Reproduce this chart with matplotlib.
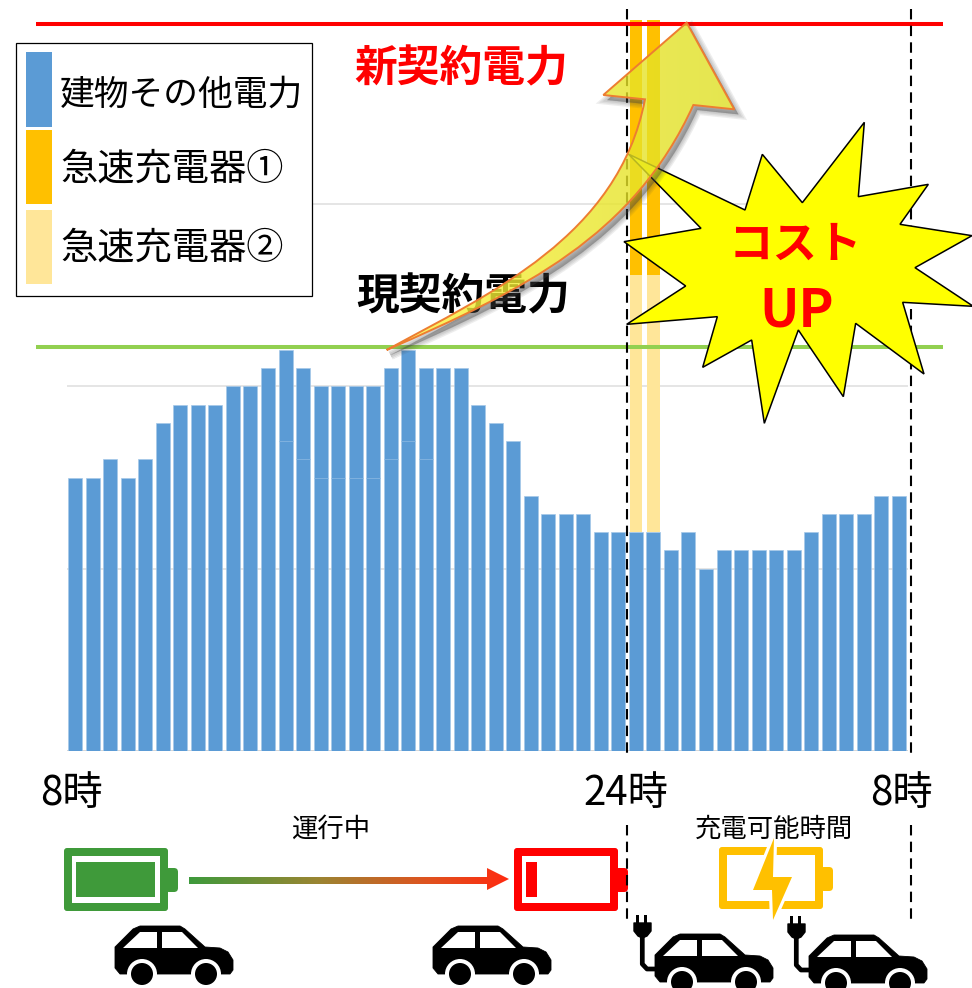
import numpy as np
import matplotlib
matplotlib.use('Agg')
import matplotlib.pyplot as plt
from matplotlib.patches import Polygon, Rectangle, FancyBboxPatch, Circle, PathPatch
from matplotlib.path import Path
from matplotlib.colors import LinearSegmentedColormap

plt.rcParams['font.family'] = ['Noto Sans CJK JP', 'DejaVu Sans']

# 30 minute slots, 8時 -> 8時
building = [15, 15, 16, 15, 16, 18, 19, 19, 19, 20, 20, 21, 22, 21, 20, 20,
            20, 20, 21, 22, 21, 21, 21, 19, 18, 17, 14, 13, 13, 13, 12, 12,
            12, 12, 11, 12, 10, 11, 11, 11, 11, 11, 12, 13, 13, 13, 14, 14]
charger2 = [0] * 48
charger1 = [0] * 48
charger2[32] = charger2[33] = 14.1
charger1[32] = charger1[33] = 14.0
seam_idx = [12, 13, 14, 15, 16, 17, 18, 19, 20]
seam_val = [17, 16, 15, 15, 15, 15, 16, 17, 16]
new_contract = 39.9
now_contract = 22.15

legend_labels = ['建物その他電力', '急速充電器①', '急速充電器②']
hour_labels = ['8時', '24時', '8時']

BLUE = '#5B9BD5'
ORANGE = '#FFC000'
PALE = '#FFE699'

W, H = 972, 988
fig = plt.figure(figsize=(W / 100, H / 100), dpi=100)

# chart area, bar pitch 17.52px
ax = fig.add_axes([66.5 / W, (H - 751) / H, 841 / W, 738.3 / H])
x = np.arange(48)
bottom2 = np.array(building)
bottom1 = bottom2 + np.array(charger2)
ax.bar(x, building, width=0.8, color=BLUE, edgecolor='#A5C8E8', linewidth=0.5, zorder=3)
ax.bar(x, charger2, width=0.72, bottom=bottom2, color=PALE, linewidth=0, zorder=3)
ax.bar(x, charger1, width=0.72, bottom=bottom1, color=ORANGE, linewidth=0, zorder=3)
ax.hlines(seam_val, np.array(seam_idx) - 0.4, np.array(seam_idx) + 0.4, color='#85B5E0', lw=0.6, zorder=4)
ax.set_xlim(-0.5, 47.5)
ax.set_ylim(0, 40.5)
ax.set_yticks([10, 20, 30])
ax.set_xticks([])
ax.set_yticklabels([])
ax.tick_params(length=0)
ax.grid(axis='y', color='#DEDEDE', lw=1.1, zorder=1)
ax.set_axisbelow(True)
for s in ax.spines.values():
    s.set_visible(False)
ax.axhline(0, color='#D0D0D0', lw=1.2, zorder=2)
ax.hlines(new_contract, -2.25, 49.5, color='#FF0000', lw=2.9, clip_on=False, zorder=5)
ax.hlines(now_contract, -2.25, 49.5, color='#92D050', lw=2.9, clip_on=False, zorder=5)

# everything below is drawn in picture pixels
ov = fig.add_axes([0, 0, 1, 1])
ov.patch.set_alpha(0)
ov.axis('off')
ov.set_xlim(0, W)
ov.set_ylim(H, 0)

# legend box
ov.add_patch(Rectangle((15.5, 43.5), 296, 252.5, fc='white', ec='black', lw=0.9, zorder=1))
swatches = [(52, 75, BLUE), (130, 74, ORANGE), (210, 74, PALE)]
for (y0, h, c) in swatches:
    ov.add_patch(Rectangle((26, y0), 26, h, fc=c, ec='none', zorder=2))
for lab, yc, fs in zip(legend_labels, [95, 169, 248], [25, 26.8, 26.8]):
    ov.text(60, yc, lab, fontsize=fs, va='center', ha='left', color='black', zorder=3)

ov.text(461, 68, '新契約電力', fontsize=30.8, fontweight='bold', color='#FF0000', ha='center', va='center', zorder=3)
ov.text(463, 296, '現契約電力', fontsize=30.8, fontweight='bold', color='black', ha='center', va='center', zorder=3)

# dashed time markers
for xp in [627, 911]:
    ov.plot([xp, xp], [9, 755], color='black', lw=1.5, dashes=(5, 3), zorder=4)
    ov.plot([xp, xp], [825, 923], color='black', lw=1.5, dashes=(5, 3), zorder=4)

for lab, xc in zip(hour_labels, [71.5, 625.5, 901.5]):
    ov.text(xc, 793, lab, fontsize=29, ha='center', va='center', color='black')
ov.text(331, 829, '運行中', fontsize=19, ha='center', va='center')

# star callout
star = [(205, 462), (555, 630), (607, 463), (727, 608), (913, 367), (895, 590), (1105, 553),
        (1020, 673), (1236, 707), (1065, 803), (1240, 919), (1028, 907), (1092, 1122), (887, 970),
        (850, 1190), (715, 990), (613, 1270), (575, 1020), (428, 1102), (472, 950), (200, 973),
        (377, 858), (192, 725), (423, 685)]
star = [(560 + a / 3, b / 3) for a, b in star]
ov.add_patch(Polygon(star, closed=True, fc='#FFFF00', ec='black', lw=1.1, joinstyle='miter', zorder=6))
ov.text(795, 245, 'コスト', fontsize=32, fontweight='bold', color='#FF0000', ha='center', va='center', zorder=7)
ov.text(797, 311, 'UP', fontsize=38, fontweight='bold', color='#FF0000', ha='center', va='center', zorder=7)


# rising arrow, outline taken from the crop (x0=380, y0=10, scale 3)
def z5(a, b):
    return (380 + a / 3, 10 + b / 3)


verts = [z5(20, 1020), z5(330, 850), z5(715, 680), z5(795, 268),
         z5(670, 255), z5(920, 38), z5(1063, 298), z5(940, 285),
         z5(760, 680), z5(430, 840), z5(20, 1020), z5(20, 1020)]
codes = [Path.MOVETO, Path.CURVE4, Path.CURVE4, Path.CURVE4,
         Path.LINETO, Path.LINETO, Path.LINETO, Path.LINETO,
         Path.CURVE4, Path.CURVE4, Path.CURVE4, Path.CLOSEPOLY]
arrow_path = Path(verts, codes)

# soft shadow only outside of the arrow
outer = Path([(0, 0), (W, 0), (W, H), (0, H), (0, 0)],
             [Path.MOVETO, Path.LINETO, Path.LINETO, Path.LINETO, Path.CLOSEPOLY])
rv = np.array(arrow_path.to_polygons(closed_only=True)[0])
a_area = np.sum(rv[:-1, 0] * rv[1:, 1] - rv[1:, 0] * rv[:-1, 1])
if a_area > 0:
    hole = Path(rv)
else:
    hole = Path(rv[::-1])
o = outer.vertices
o_area = np.sum(o[:-1, 0] * o[1:, 1] - o[1:, 0] * o[:-1, 1])
if o_area > 0:
    hole = Path(hole.vertices[::-1])
clip = PathPatch(Path.make_compound_path(outer, hole), transform=ov.transData, fc='none', ec='none')
ov.add_patch(clip)
shadow_v = np.array(verts) + np.array([4, 5])
for lw in [7, 5, 3, 1, 0.01]:
    sh = PathPatch(Path(shadow_v, codes), fc=(0.25, 0.25, 0.25, 0.09), ec=(0.25, 0.25, 0.25, 0.09), lw=lw, zorder=7.5)
    ov.add_patch(sh)
    sh.set_clip_path(clip)

grad = LinearSegmentedColormap.from_list('g', [(1.0, 0.96, 0.25, 0.8), (0.93, 0.91, 0.18, 0.8), (0.87, 0.875, 0.14, 0.8)])
img = ov.imshow(np.linspace(0, 1, 256)[None, :], cmap=grad, extent=(388, 736, 350, 20), aspect='auto', zorder=8)
ap = PathPatch(arrow_path, fc='none', ec='#ED7D31', lw=1.4, zorder=8.5, joinstyle='miter')
ov.add_patch(ap)
img.set_clip_path(PathPatch(arrow_path, transform=ov.transData))


# battery icons
def battery(x0, y0, w, h, col, cell=None):
    ov.add_patch(FancyBboxPatch((x0 + 2, y0 + 2), w - 4, h - 4, boxstyle='round,pad=2,rounding_size=3', fc=col, ec='none', zorder=3))
    ov.add_patch(Rectangle((x0 + 8, y0 + 8), w - 16, h - 16, fc='white', ec='none', zorder=3.1))
    ov.add_patch(FancyBboxPatch((x0 + w - 2, y0 + 21), 11, 22, boxstyle='round,pad=1,rounding_size=4', fc=col, ec='none', zorder=2.9))
    if cell:
        ov.add_patch(Rectangle((cell[0], y0 + 14), cell[1], h - 28, fc=col, ec='none', zorder=3.2))


battery(64, 848, 104, 63, '#3F9A3A', (76, 79))
battery(514, 848, 104, 63, '#FF0000', (526, 11))
battery(719, 847, 104, 62, ORANGE)

# bolt with white gap cut in the battery
bolt = [(774, 838), (753, 890), (772, 890), (773, 920), (792, 877), (773, 877)]
ov.add_patch(Polygon(bolt, closed=True, fc=ORANGE, ec='white', lw=4.5, zorder=3.4, joinstyle='miter'))
ov.add_patch(Polygon(bolt, closed=True, fc=ORANGE, ec='none', zorder=3.5))
ov.text(774, 829, '充電可能時間', fontsize=19, ha='center', va='center', zorder=3.6)

# green to red arrow
arrow_clip = Polygon([(189, 877), (487, 877), (487, 868), (509, 879), (487, 890), (487, 884), (189, 884)], closed=True, transform=ov.transData)
grad2 = LinearSegmentedColormap.from_list('g2', [(0, '#3E9A3C'), (0.4, '#9A8532'), (0.75, '#E0521F'), (1, '#FF2A10')])
im2 = ov.imshow(np.linspace(0, 1, 256)[None, :], cmap=grad2, extent=(189, 509, 892, 866), aspect='auto', zorder=3)
im2.set_clip_path(arrow_clip)


# car glyph, x0,y0 = top left
def car(x0, y0, plug=False):
    body = [(0, 21), (18, 3), (25, 0), (65, 0), (70, 3), (90, 21), (105, 22), (113, 26), (118, 34), (118, 44), (115, 48),
            (5, 48), (0, 42)]
    ov.add_patch(Polygon([(x0 + a, y0 + b) for a, b in body], closed=True, fc='black', ec='black', lw=0.6, joinstyle='round', zorder=3))
    for win in [[(8, 22), (25, 6), (42, 6), (42, 22)], [(47, 6), (67, 6), (83, 22), (47, 22)]]:
        ov.add_patch(Polygon([(x0 + a, y0 + b) for a, b in win], closed=True, fc='white', ec='none', zorder=3.1))
    for cx in [27, 91]:
        ov.add_patch(Rectangle((x0 + cx - 15, y0 + 48), 30, 14, fc='white', ec='none', zorder=3.05))
        ov.add_patch(Circle((x0 + cx, y0 + 48), 15, fc='white', ec='none', zorder=3.1))
        ov.add_patch(Circle((x0 + cx, y0 + 48), 11, fc='black', ec='none', zorder=3.2))
    if plug:
        ov.plot([x0 - 12.7, x0 - 12.7, x0 - 8, x0 + 1], [y0 + 2, y0 + 30, y0 + 35, y0 + 35], color='black', lw=3.4, solid_joinstyle='round', zorder=3)
        for px in [-17.3, -9.3]:
            ov.add_patch(Rectangle((x0 + px - 1.6, y0 - 19), 3.2, 9, fc='black', ec='none', zorder=3))
        head = [(-21, -11), (-4, -11), (-4, -3), (-8, 2), (-12.7, 4), (-17, 2), (-21, -3)]
        ov.add_patch(Polygon([(x0 + a, y0 + b) for a, b in head], closed=True, fc='black', ec='black', lw=1, joinstyle='round', zorder=3))


car(115, 926)
car(433, 926)
car(655, 934, plug=True)
car(809, 935, plug=True)

ov.set_xlim(0, W)
ov.set_ylim(H, 0)
fig.savefig('out.png', dpi=100)
